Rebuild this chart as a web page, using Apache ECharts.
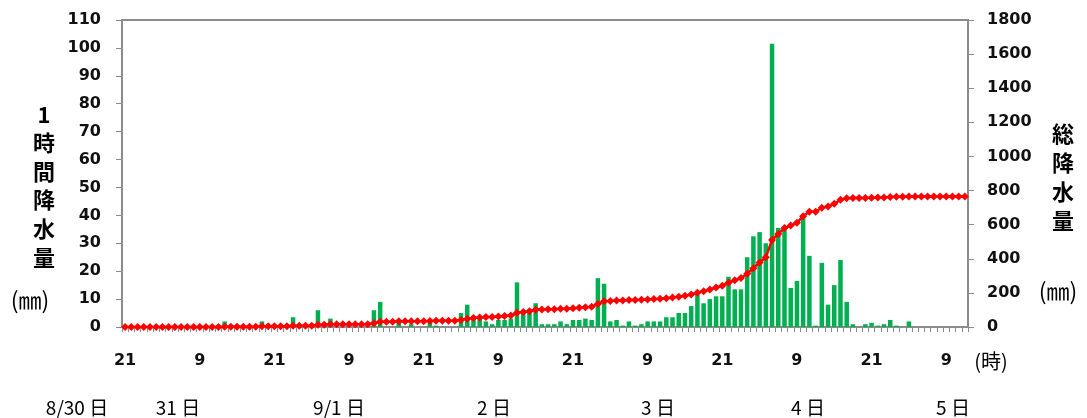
<!DOCTYPE html>
<html>
<head>
<meta charset="utf-8">
<script src="https://cdn.jsdelivr.net/npm/echarts/dist/echarts.min.js"></script>
<style>
html,body{margin:0;padding:0;background:#fff;}
#chart{width:1087px;height:418px;}
</style>
</head>
<body>
<div id="chart"></div>
<script>
// Hourly precipitation (mm), one value per hour from 8/30 21h to 9/5 12h
const hourlyRain = [
  0,0,0,0,0,0,0,0,0,0,0,0,
  0,0,0,0,2,0,0,0,0,0,2,0,
  0,0,0,3.5,0,0,0,6,0,3,0,0,
  0,0,0,0,6,9,0,0,1.5,0,1,0,
  0,1.5,0.5,0,0,0,5,8,4,3,2,1,
  2.5,2.5,3,16,5,5,8.5,1,1,1,2,1,
  2.5,2.5,3,2.5,17.5,15.5,2,2.5,0.5,2,0.5,1,
  2,2,2,3.5,3.5,5,5,7.5,11.5,8.5,10,11,
  11,18,13.5,13.5,25,32.5,34,30,101.5,35.5,35,14,
  16.5,39,25.5,0.5,23,8,15,24,9,1,0,1,
  1.5,0.5,1,2.5,0.5,0,2,0,0,0,0,0,
  0,0,0,0
];
// Total (cumulative) precipitation (mm)
const totalRain = [
  0,0,0,0,0,0,0,0,0,0,0,0,
  0,0,0,0,2,2,2,2,2,2,4,4,
  4,4,4,7.5,7.5,7.5,7.5,13.5,13.5,16.5,16.5,16.5,
  16.5,16.5,16.5,16.5,22.5,31.5,31.5,31.5,33,33,34,34,
  34,35.5,36,36,36,36,41,49,53,56,58,59,
  61.5,64,67,83,88,93,101.5,102.5,103.5,104.5,106.5,107.5,
  110,112.5,115.5,118,135.5,151,153,155.5,156,158,158.5,159.5,
  161.5,163.5,165.5,169,172.5,177.5,182.5,190,201.5,210,220,231,
  242,260,273.5,287,312,344.5,378.5,408.5,510,545.5,580.5,594.5,
  611,650,675.5,676,699,707,722,746,755,756,756,757,
  758.5,759,760,762.5,763,763,765,765,765,765,765,765,
  765,765,765,765
];
// Category axis: hour of day for each bar (start 21h on 8/30)
const startHour = 21;
const hours = [];
const categories = [];
for (let i = 0; i < hourlyRain.length; i++) {
  const h = (startHour + i) % 24;
  hours.push(String(h));
  categories.push('t' + i);
}
const leftTitle = ['1','時','間','降','水','量'];
const rightTitle = ['総','降','水','量'];
const dayLabels = ['8/30 日','31 日','9/1 日','2 日','3 日','4 日','5 日'];
const dayLabelX = [77, 178, 339, 494, 658, 808, 953];

const numFont = 'DejaVu Sans';
const jpFont = '"Noto Sans CJK JP", sans-serif';
const axisGray = '#8c8c8c';

const graphics = [
  {type:'text', x:44, y:100, style:{text:leftTitle.join('\n'), font:'bold 22px ' + jpFont, lineHeight:28.6, textAlign:'center', textVerticalAlign:'top', fill:'#000'}},
  {type:'text', x:30, y:300, style:{text:'(㎜)', font:'23px ' + jpFont, textAlign:'center', textVerticalAlign:'middle', fill:'#000'}},
  {type:'text', x:1063, y:119, style:{text:rightTitle.join('\n'), font:'bold 22px ' + jpFont, lineHeight:29, textAlign:'center', textVerticalAlign:'top', fill:'#000'}},
  {type:'text', x:1058, y:291, style:{text:'(㎜)', font:'23px ' + jpFont, textAlign:'center', textVerticalAlign:'middle', fill:'#000'}},
  {type:'text', x:991, y:361, style:{text:'(時)', font:'20px ' + jpFont, textAlign:'center', textVerticalAlign:'middle', fill:'#000'}}
];
dayLabels.forEach(function(t, k){
  graphics.push({type:'text', x:dayLabelX[k], y:408, style:{text:t, font:'19px ' + jpFont, textAlign:'center', textVerticalAlign:'middle', fill:'#000'}});
});

const chart = echarts.init(document.getElementById('chart'), null, {renderer:'canvas'});
chart.setOption({
  animation:false,
  backgroundColor:'#fff',
  grid:{left:122, right:119, top:20, bottom:91, show:true, borderColor:axisGray, borderWidth:2, backgroundColor:'transparent'},
  xAxis:{
    type:'category',
    data:categories,
    boundaryGap:true,
    axisLine:{show:true, lineStyle:{color:axisGray, width:2}},
    axisTick:{show:true, interval:0, length:5, inside:false, lineStyle:{color:axisGray, width:1}},
    axisLabel:{interval:11, margin:26, fontFamily:numFont, fontWeight:'bold', fontSize:16, color:'#111',
      formatter:function(v, idx){ return hours[idx]; }},
    splitLine:{show:false}
  },
  yAxis:[
    {type:'value', min:0, max:110, interval:10, position:'left',
      axisLine:{show:true, lineStyle:{color:axisGray, width:2}},
      axisTick:{show:true, length:6, lineStyle:{color:axisGray, width:1}},
      axisLabel:{margin:21, fontFamily:numFont, fontWeight:'bold', fontSize:16, color:'#111',
        formatter:function(v){ return String(v); }},
      splitLine:{show:false}},
    {type:'value', min:0, max:1800, interval:200, position:'right',
      axisLine:{show:true, lineStyle:{color:axisGray, width:2}},
      axisTick:{show:true, length:6, lineStyle:{color:axisGray, width:1}},
      axisLabel:{margin:19, fontFamily:numFont, fontWeight:'bold', fontSize:16, color:'#111',
        formatter:function(v){ return String(v); }},
      splitLine:{show:false}}
  ],
  series:[
    {type:'bar', name:'1時間降水量', data:hourlyRain, yAxisIndex:0, barWidth:4.5,
      itemStyle:{color:'#00B050'}, z:2},
    {type:'line', name:'総降水量', data:totalRain, yAxisIndex:1,
      symbol:'diamond', symbolSize:8, showAllSymbol:true,
      lineStyle:{color:'#FF0000', width:2.5}, itemStyle:{color:'#FF0000'}, z:3}
  ],
  graphic:graphics
});
</script>
</body>
</html>
